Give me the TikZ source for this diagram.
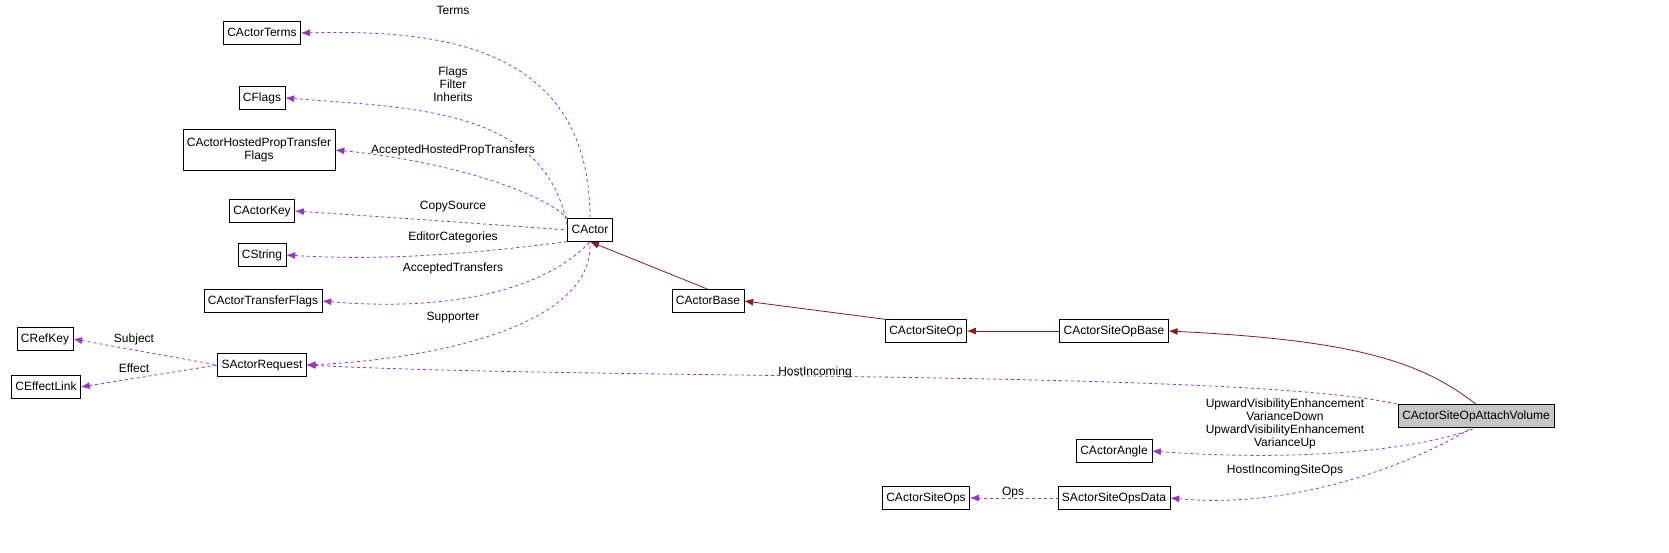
\documentclass[tikz,border=0pt]{standalone}
\usepackage{fontspec}
\setmainfont{Liberation Sans}
\usetikzlibrary{arrows.meta, positioning}
\definecolor{usecol}{HTML}{9A32CD}
\definecolor{inhcol}{HTML}{8B1A1A}

\begin{document}
\begin{tikzpicture}[x=1pt,y=-1pt,
    font=\fontsize{12}{13.5}\selectfont,
    cls/.style={draw, fill=white, inner xsep=4pt, inner ysep=0pt, minimum height=23pt, text height=8.5pt, text depth=2.5pt, align=center},
    uses/.style={usecol, dashed, thick, {Latex[length=9pt,width=7pt]}-},
    inh/.style={inhcol, thick, {Latex[length=9pt,width=7pt]}-},
    lbl/.style={align=center, font=\fontsize{12}{13}\selectfont}]
    \useasboundingbox (0,0) rectangle (1669,552);

    % classes
    \node[cls] (terms)   at (262,33)  {CActorTerms};
    \node[cls] (flags)   at (262,98)  {CFlags};
    \node[cls, minimum height=41pt, text height=, text depth=] (hosted) at (259,150) {CActorHostedPropTransfer\\Flags};
    \node[cls] (key)     at (262,211) {CActorKey};
    \node[cls] (string)  at (262,255) {CString};
    \node[cls] (transf)  at (263,301) {CActorTransferFlags};
    \node[cls] (actor)   at (590,230) {CActor};
    \node[cls] (base)    at (708,301) {CActorBase};
    \node[cls] (siteop)  at (926,331) {CActorSiteOp};
    \node[cls] (opbase)  at (1114,331) {CActorSiteOpBase};
    \node[cls] (refkey)  at (45,339)  {CRefKey};
    \node[cls] (request) at (262,365) {SActorRequest};
    \node[cls] (effect)  at (46,387)  {CEffectLink};
    \node[cls, fill=gray!45] (attach) at (1476,416) {CActorSiteOpAttachVolume};
    \node[cls] (angle)   at (1114,451) {CActorAngle};
    \node[cls] (siteops) at (926,498) {CActorSiteOps};
    \node[cls] (opsdata) at (1114,498) {SActorSiteOpsData};

    % usage
    \draw[uses] (terms.east) .. controls (430,30) and (590,40) .. (actor.north);
    \draw[uses] (flags.east) .. controls (420,108) and (545,110) .. (actor.170);
    \draw[uses] (hosted.east) .. controls (440,160) and (540,190) .. (actor.north west);
    \draw[uses] (key.east) .. controls (400,218) and (500,225) .. (actor.west);
    \draw[uses] (string.east) .. controls (400,262) and (500,250) .. (actor.south west);
    \draw[uses] (transf.east) .. controls (450,312) and (545,290) .. (actor.south);
    \draw[uses] (request.east) .. controls (420,360) and (595,330) .. (actor.south);
    \draw[uses] (refkey.east) -- (request.west);
    \draw[uses] (effect.east) -- (request.west);
    \draw[uses] (request.east) .. controls (600,380) and (1250,370) .. (attach.north west);
    \draw[uses] (angle.east) .. controls (1300,462) and (1420,450) .. (attach.south);
    \draw[uses] (opsdata.east) .. controls (1300,510) and (1420,460) .. (attach.250);
    \draw[uses] (siteops.east) -- (opsdata.west);

    % inheritance
    \draw[inh] (actor.south) -- (base.north);
    \draw[inh] (base.east) -- (siteop.north west);
    \draw[inh] (siteop.east) -- (opbase.west);
    \draw[inh] (opbase.east) .. controls (1350,340) and (1420,360) .. (attach.north);

    % labels
    \node[lbl] at (453,10)  {Terms};
    \node[lbl] at (453,84)  {Flags\\Filter\\Inherits};
    \node[lbl] at (453,150) {AcceptedHostedPropTransfers};
    \node[lbl] at (453,207) {CopySource};
    \node[lbl] at (453,237) {EditorCategories};
    \node[lbl] at (453,268) {AcceptedTransfers};
    \node[lbl] at (453,318) {Supporter};
    \node[lbl] at (134,339) {Subject};
    \node[lbl] at (134,368) {Effect};
    \node[lbl] at (815,372) {HostIncoming};
    \node[lbl] at (1285,424) {UpwardVisibilityEnhancement\\VarianceDown\\UpwardVisibilityEnhancement\\VarianceUp};
    \node[lbl] at (1285,470) {HostIncomingSiteOps};
    \node[lbl] at (1013,493) {Ops};
\end{tikzpicture}
\end{document}
